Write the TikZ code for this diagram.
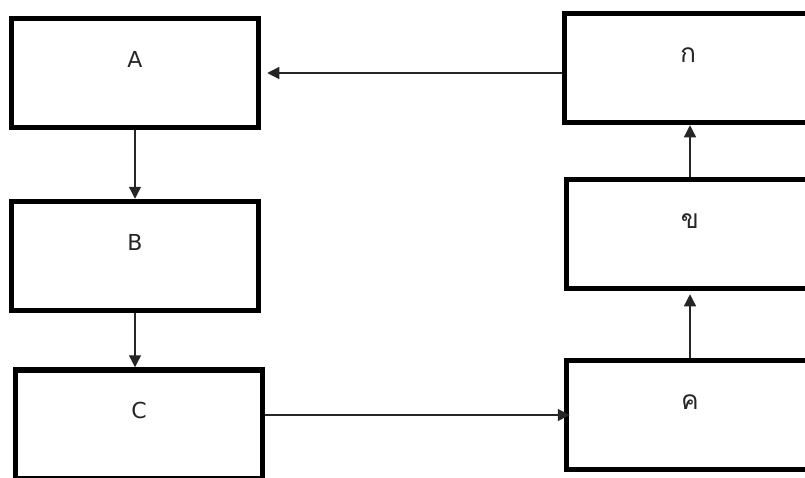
\documentclass[tikz,border=0pt]{standalone}
\usepackage{fontspec}
\setmainfont{DejaVu Sans}
\newfontfamily\thaifont[Script=Thai, Scale=1.2]{Loma}
\usetikzlibrary{positioning, arrows.meta}

\begin{document}
\begin{tikzpicture}[x=1pt, y=-1pt,
      box/.style={rectangle, draw, line width=5.5pt, minimum width=247pt, minimum height=109pt,
        inner sep=0pt, text height=16pt, text depth=28pt, text=black!85,
        font=\fontsize{22}{26}\selectfont},
      arrow/.style={-{Triangle[width=12pt, length=12pt]}, line width=1.3pt, draw=black!85}
    ]
      \useasboundingbox (0,0) rectangle (805,477);
      \clip (0,0) rectangle (805,477);

      \node[box] (A) at (135,73) {A};
      \node[box] (B) at (135,256) {B};
      \node[box] (C) at (139,424.5) {C};
      \node[box] (kokai) at (688,68) {\thaifont ก};
      \node[box] (khokhai) at (690,234) {\thaifont ข};
      \node[box] (khokhwai) at (690,415) {\thaifont ค};

      \draw[arrow, shorten >=6pt] (kokai.west |- A.east) -- (A.east);
      \draw[arrow] (A.south) -- (A.south |- B.north);
      \draw[arrow] (B.south) -- (B.south |- C.north);
      \draw[arrow, shorten >=-6pt] (C.east |- khokhwai.west) -- (khokhwai.west);
      \draw[arrow, shorten >=3pt] (khokhwai.north) -- (khokhwai.north |- khokhai.south);
      \draw[arrow] (khokhai.north) -- (khokhai.north |- kokai.south);
    \end{tikzpicture}
\end{document}
